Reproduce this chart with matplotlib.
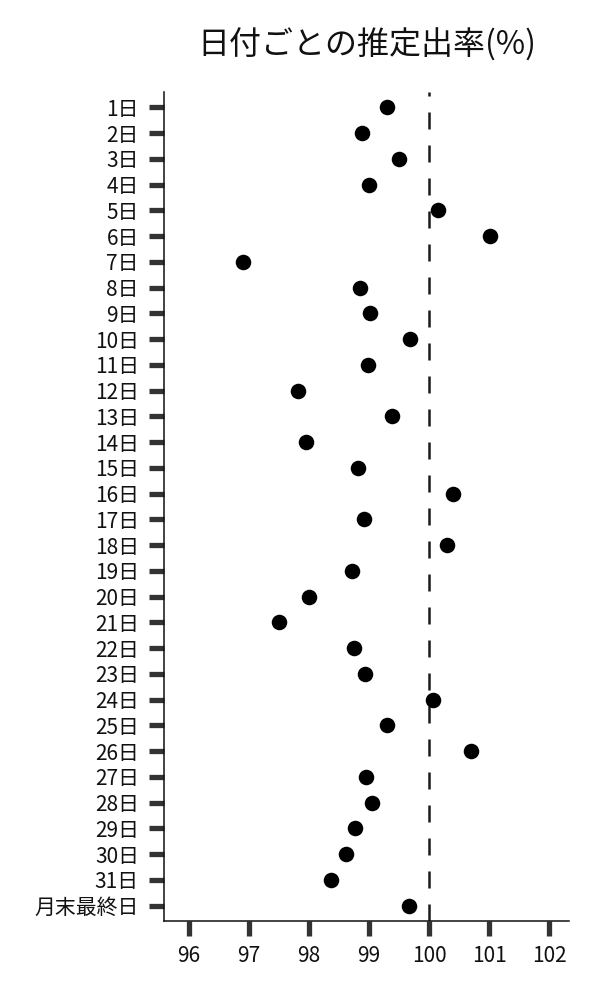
import numpy as np
import matplotlib
matplotlib.use('Agg')
import matplotlib.pyplot as plt

plt.rcParams['font.family'] = ['Noto Sans CJK JP', 'DejaVu Sans']

#%% data
days = [f'{i}日' for i in range(1, 32)] + ['月末最終日']
rate = [99.30, 98.88, 99.49, 98.99, 100.15, 101.02, 96.90, 98.84, 99.01, 99.68,
        98.98, 97.81, 99.38, 97.94, 98.81, 100.40, 98.91, 100.30, 98.71, 98.00,
        97.49, 98.75, 98.93, 100.07, 99.30, 100.69, 98.95, 99.05, 98.77, 98.61,
        98.36, 99.67]
xticks = [96, 97, 98, 99, 100, 101, 102]

#%% plot
fig = plt.figure(figsize=(6, 10), dpi=100, facecolor='w')
ax = fig.add_axes([0.2733, 0.079, 0.675, 0.829])

ypos = np.arange(len(days))
ax.scatter(rate, ypos, s=125, color='black', zorder=3, linewidths=0)
ax.axvline(100, color='#1a1a1a', lw=1.8, linestyle=(0, (6.8, 6.4)), zorder=2)

ax.set_yticks(ypos)
ax.set_yticklabels(days)
ax.set_xticks(xticks)
ax.set_xticklabels([str(v) for v in xticks])
ax.set_xlim(95.58, 102.33)
ax.set_ylim(31.6, -0.6)

for s in ['top', 'right']:
    ax.spines[s].set_visible(False)
for s in ['left', 'bottom']:
    ax.spines[s].set_linewidth(1.1)
    ax.spines[s].set_color('#111111')

ax.tick_params(axis='both', length=11, width=3.8, color='#333333',
               labelsize=15, labelcolor='#111111')
ax.tick_params(axis='y', pad=7)
ax.tick_params(axis='x', pad=6)

ax.set_title('日付ごとの推定出率(%)', fontsize=23, pad=27, color='#111111')

fig.savefig('out.png', dpi=100)
